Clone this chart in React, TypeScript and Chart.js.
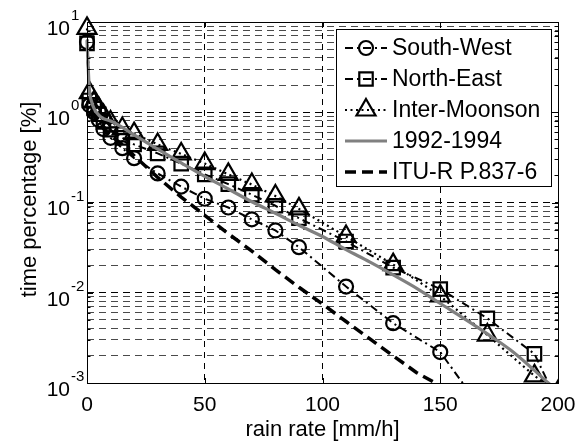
import React, { useEffect, useRef } from 'react';
import { Chart, registerables } from 'chart.js';

Chart.register(...registerables);

// ---- data ----
const rainRatesSW = [0, 1, 3, 5, 7, 10, 15, 20, 30, 40, 50, 60, 70, 80, 90, 110, 130, 150, 170];
const southWest = [6.0, 1.2, 1.0, 0.82, 0.65, 0.52, 0.4, 0.31, 0.21, 0.15, 0.11, 0.088, 0.065, 0.049, 0.032, 0.0117, 0.0046, 0.0022, 0.00042];

const rainRatesNE = [0, 1, 3, 5, 7, 10, 15, 20, 30, 40, 50, 60, 70, 80, 90, 110, 130, 150, 170, 190, 200];
const northEast = [5.8, 1.35, 1.1, 0.95, 0.78, 0.64, 0.52, 0.44, 0.35, 0.27, 0.205, 0.16, 0.122, 0.092, 0.067, 0.037, 0.019, 0.011, 0.0052, 0.0021, 0.0006];

const rainRatesIM = [0, 1, 3, 5, 7, 10, 15, 20, 30, 40, 50, 60, 70, 80, 90, 110, 130, 150, 170, 190, 200];
const interMonsoon = [8.5, 1.65, 1.3, 1.1, 0.92, 0.78, 0.66, 0.58, 0.44, 0.345, 0.27, 0.205, 0.158, 0.118, 0.085, 0.042, 0.0205, 0.0092, 0.0034, 0.0012, 0.0008];

const rainRatesLong = [0, 1, 2, 3, 5, 7, 10, 15, 20, 30, 40, 50, 60, 70, 80, 90, 100, 110, 120, 130, 140, 150, 160, 170, 180, 190, 195, 198];
const period1992to1994 = [6.3, 1.8, 1.3, 1.1, 0.93, 0.85, 0.8, 0.68, 0.56, 0.39, 0.275, 0.195, 0.141, 0.102, 0.076, 0.056, 0.042, 0.03, 0.022, 0.0158, 0.0112, 0.0076, 0.0052, 0.0035, 0.0023, 0.00138, 0.00105, 0.0009];

const rainRatesITU = [2, 5, 10, 15, 20, 30, 40, 50, 60, 70, 80, 90, 100, 110, 120, 130, 140, 148, 152];
const ituR837 = [1.0, 0.75, 0.55, 0.44, 0.33, 0.19, 0.115, 0.072, 0.045, 0.029, 0.018, 0.0115, 0.0075, 0.0048, 0.0031, 0.002, 0.0013, 0.001, 0.0008];

const xTickValues = [0, 50, 100, 150, 200];
const yDecades = [0.001, 0.01, 0.1, 1, 10];
const yExponents = ['-3', '-2', '-1', '0', '1'];
const seriesLabels = ['South-West', 'North-East', 'Inter-Moonson', '1992-1994', 'ITU-R P.837-6'];
const xTitle = 'rain rate [mm/h]';
const yTitle = 'time percentage [%]';

const FONT = '"Liberation Sans", Arial, Helvetica, sans-serif';

// grid values 1..9 x each decade
const yGridValues: number[] = [];
for (let d = 0; d < yDecades.length - 1; d++) {
  for (let m = 1; m <= 9; m++) yGridValues.push(yDecades[d] * m);
}
yGridValues.push(yDecades[yDecades.length - 1]);

const pts = (xs: number[], ys: number[]) => xs.map((x, i) => ({ x, y: ys[i] }));

const markerClip = { left: 16, top: 16, right: 0, bottom: 0 };

type Sty = { dash: number[]; width: number; color: string; marker: string | null; r: number };
const styles: Sty[] = [
  { dash: [8, 4, 2, 4], width: 2, color: '#000', marker: 'circle', r: 7 },
  { dash: [8, 4, 2, 4], width: 2, color: '#000', marker: 'rect', r: 9.5 },
  { dash: [2, 3.5], width: 2.2, color: '#000', marker: 'triangle', r: 11 },
  { dash: [], width: 3.2, color: '#808080', marker: null, r: 0 },
  { dash: [11, 6], width: 3.5, color: '#000', marker: null, r: 0 },
];

function drawMarker(ctx: CanvasRenderingContext2D, kind: string, x: number, y: number, r: number) {
  ctx.beginPath();
  if (kind === 'circle') {
    ctx.arc(x, y, r, 0, Math.PI * 2);
  } else if (kind === 'rect') {
    const s = Math.SQRT1_2 * r;
    ctx.rect(x - s, y - s, 2 * s, 2 * s);
  } else {
    ctx.moveTo(x, y - r);
    ctx.lineTo(x + r * Math.sin((2 * Math.PI) / 3), y - r * Math.cos((2 * Math.PI) / 3));
    ctx.lineTo(x + r * Math.sin((4 * Math.PI) / 3), y - r * Math.cos((4 * Math.PI) / 3));
    ctx.closePath();
  }
  ctx.stroke();
}

const matlabAxes = {
  id: 'matlabAxes',
  afterDatasetsDraw(chart: any) {
    const { ctx, chartArea } = chart;
    const { left, right, top, bottom } = chartArea;
    const xs = chart.scales.x;
    const ys = chart.scales.y;
    ctx.save();
    ctx.strokeStyle = '#000';
    ctx.lineWidth = 1;
    ctx.setLineDash([]);
    ctx.strokeRect(Math.round(left) + 0.5, Math.round(top) + 0.5, Math.round(right - left), Math.round(bottom - top));
    ctx.beginPath();
    xTickValues.forEach((v) => {
      const px = Math.round(xs.getPixelForValue(v)) + 0.5;
      ctx.moveTo(px, bottom);
      ctx.lineTo(px, bottom - 5);
      ctx.moveTo(px, top);
      ctx.lineTo(px, top + 5);
    });
    yGridValues.forEach((v) => {
      const py = Math.round(ys.getPixelForValue(v)) + 0.5;
      const isMajor = yDecades.includes(v);
      const len = isMajor ? 6 : 3.5;
      ctx.moveTo(left, py);
      ctx.lineTo(left + len, py);
      ctx.moveTo(right, py);
      ctx.lineTo(right - len, py);
    });
    ctx.stroke();

    // tick labels
    ctx.fillStyle = '#000';
    ctx.font = `21px ${FONT}`;
    ctx.textAlign = 'center';
    ctx.textBaseline = 'middle';
    xTickValues.forEach((v) => {
      ctx.fillText(String(v), xs.getPixelForValue(v), bottom + 22);
    });
    yDecades.forEach((v, i) => {
      const py = ys.getPixelForValue(v);
      ctx.font = `21px ${FONT}`;
      ctx.textAlign = 'right';
      ctx.fillText('10', left - 17, py + 7);
      ctx.font = `15px ${FONT}`;
      ctx.textAlign = 'left';
      ctx.fillText(yExponents[i], left - 16, py - 6);
    });

    // axis titles
    ctx.font = `22px ${FONT}`;
    ctx.textAlign = 'center';
    ctx.fillText(xTitle, (left + right) / 2, bottom + 47);
    ctx.save();
    ctx.translate(30, (top + bottom) / 2 - 3);
    ctx.rotate(-Math.PI / 2);
    ctx.fillText(yTitle, 0, 0);
    ctx.restore();

    // legend
    const bx = 336.5, by = 29.5, bw = 215, bh = 157;
    ctx.fillStyle = '#fff';
    ctx.fillRect(bx, by, bw, bh);
    ctx.strokeStyle = '#000';
    ctx.lineWidth = 1;
    ctx.strokeRect(bx, by, bw, bh);
    seriesLabels.forEach((lab, i) => {
      const st = styles[i];
      const ly = 48 + i * 31;
      ctx.save();
      ctx.strokeStyle = st.color;
      ctx.lineWidth = st.width;
      ctx.setLineDash(st.dash);
      ctx.beginPath();
      ctx.moveTo(345, ly);
      ctx.lineTo(387, ly);
      ctx.stroke();
      ctx.setLineDash([]);
      if (st.marker) {
        ctx.lineWidth = 2.2;
        drawMarker(ctx, st.marker, 366, ly, st.r);
      }
      ctx.restore();
      ctx.fillStyle = '#000';
      ctx.font = `23px ${FONT}`;
      ctx.textAlign = 'left';
      ctx.textBaseline = 'middle';
      ctx.fillText(lab, 392, ly + 1);
    });
    ctx.restore();
  },
};

export default function App() {
  const ref = useRef<HTMLCanvasElement | null>(null);
  useEffect(() => {
    if (!ref.current) return;
    const mk = (i: number, data: any[], order: number) => {
      const st = styles[i];
      return {
        label: seriesLabels[i],
        data,
        borderColor: st.color,
        borderWidth: st.width,
        borderDash: st.dash,
        pointStyle: st.marker || 'circle',
        pointRadius: st.marker ? st.r : 0,
        pointHoverRadius: st.marker ? st.r : 0,
        pointBorderWidth: 2.2,
        pointBorderColor: '#000',
        pointBackgroundColor: 'rgba(0,0,0,0)',
        fill: false,
        tension: 0,
        clip: markerClip,
        order,
      };
    };
    const chart = new Chart(ref.current, {
      type: 'line',
      data: {
        datasets: [
          mk(0, pts(rainRatesSW, southWest), 4),
          mk(1, pts(rainRatesNE, northEast), 3),
          mk(2, pts(rainRatesIM, interMonsoon), 2),
          { ...mk(3, pts(rainRatesLong, period1992to1994), 1), cubicInterpolationMode: 'monotone' },
          mk(4, pts(rainRatesITU, ituR837), 0),
        ] as any,
      },
      options: {
        responsive: false,
        animation: false,
        devicePixelRatio: 1,
        layout: { padding: { left: 87, right: 29, top: 22, bottom: 60 } },
        plugins: { legend: { display: false }, tooltip: { enabled: false } },
        events: [],
        scales: {
          x: {
            type: 'linear',
            min: 0,
            max: 200,
            ticks: { display: false, stepSize: 50 },
            border: { display: false, dash: [6, 5] },
            grid: {
              drawTicks: false,
              color: (c: any) => (c.tick && (c.tick.value === 0 || c.tick.value === 200) ? 'rgba(0,0,0,0)' : '#000'),
              lineWidth: 1,
            },
          },
          y: {
            type: 'logarithmic',
            min: 0.001,
            max: 10,
            ticks: { display: false },
            afterBuildTicks: (scale: any) => {
              scale.ticks = yGridValues.map((v) => ({ value: v }));
            },
            border: { display: false, dash: [7, 5] },
            grid: {
              drawTicks: false,
              color: (c: any) => (c.tick && yDecades.includes(c.tick.value) ? '#000' : '#4a4a4a'),
              lineWidth: 1,
            },
          },
        },
      } as any,
      plugins: [matlabAxes],
    });
    return () => chart.destroy();
  }, []);
  return (
    <div style={{ position: 'fixed', left: 0, top: 0, width: 587, height: 443, background: '#fff' }}>
      <canvas ref={ref} width={587} height={443} />
    </div>
  );
}
